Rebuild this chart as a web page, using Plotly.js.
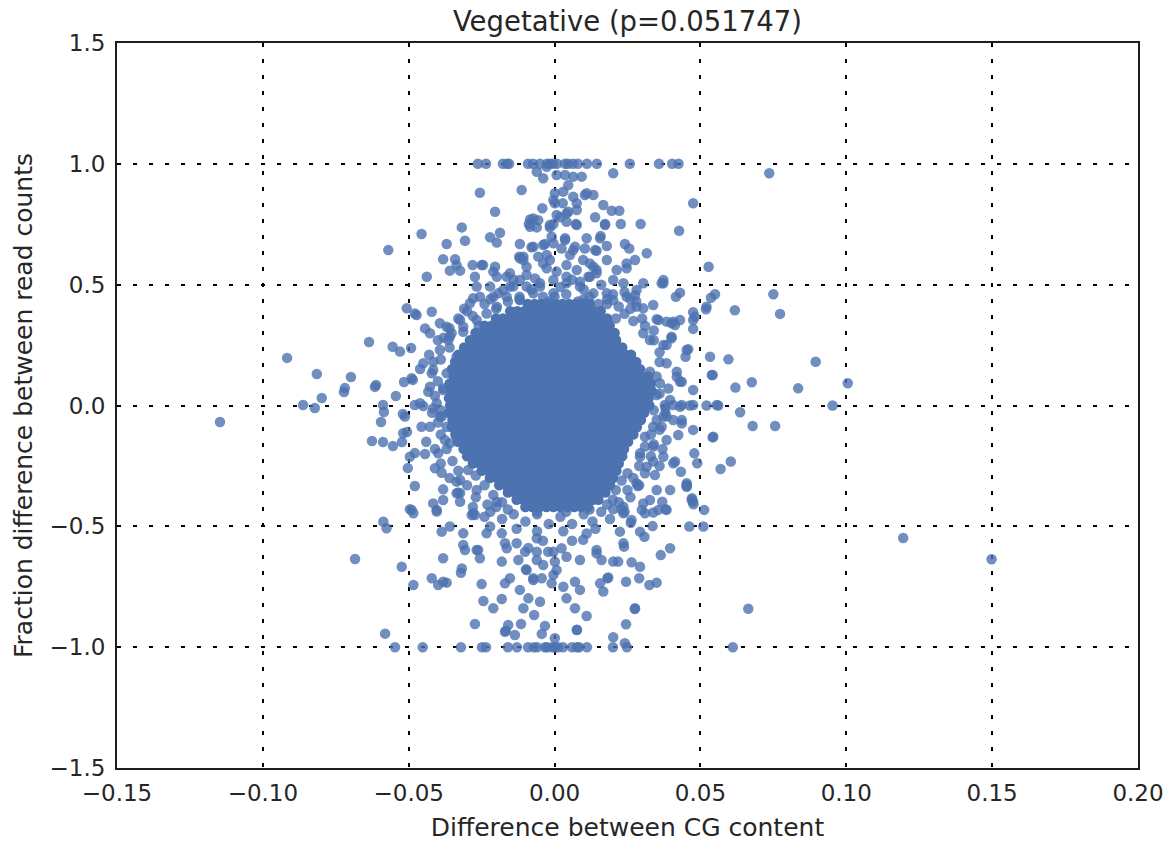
<!DOCTYPE html>
<html>
<head>
<meta charset="utf-8">
<script src="https://cdn.plot.ly/plotly-3.0.1.min.js"></script>
<style>html,body{margin:0;padding:0;background:#fff;}#chart{width:1173px;height:843px;}</style>
</head>
<body>
<div id="chart"></div>
<script>
// ---- data ----
const titleText = 'Vegetative (p=0.051747)';
const xTitle = 'Difference between CG content';
const yTitle = 'Fraction difference between read counts';
const xTicks = [-0.15, -0.10, -0.05, 0.00, 0.05, 0.10, 0.15, 0.20];
const yTicks = [-1.5, -1.0, -0.5, 0.0, 0.5, 1.0, 1.5];

// points sitting on y = 1
const topRowX = [-0.0263,-0.0235,-0.0177,-0.0163,-0.0156,-0.0091,-0.0074,-0.0050,-0.0026,-0.0016,-0.0005,0.0008,0.0036,0.0046,0.0063,0.0080,0.0111,0.0145,0.0258,0.0358,0.0403,0.0425];
// points sitting on y = -1
const bottomRowX = [-0.0547,-0.0452,-0.0321,-0.0249,-0.0235,-0.0160,-0.0129,-0.0091,-0.0071,-0.0060,-0.0033,-0.0026,-0.0009,0.0001,0.0012,0.0029,0.0060,0.0077,0.0084,0.0111,0.0200,0.0248,0.0611];

// upper part of the cloud
const upperPoints = [
[-0.0061,0.967],[-0.0039,0.940],[-0.0027,0.988],[0.0007,0.954],[0.0036,0.954],[0.0064,0.947],[0.0093,0.947],[0.0201,0.961],[0.0736,0.961],
[0.0047,0.912],[0.0030,0.885],[0.0001,0.878],[-0.0004,0.850],[0.0064,0.864],[0.0076,0.837],[0.0104,0.871],[0.0133,0.871],[-0.0113,0.892],
[-0.0256,0.880],[0.0028,0.837],[0.0167,0.830],[0.0196,0.806],[0.0222,0.806],[0.0475,0.837],[-0.0042,0.816],[-0.0204,0.802],[0.0041,0.795],
[0.0019,0.779],[0.0139,0.779],[-0.0084,0.770],[-0.0056,0.767],[-0.0088,0.751],[-0.0061,0.737],[-0.0016,0.737],[-0.0004,0.751],[0.0073,0.751],
[0.0173,0.751],[0.0227,0.751],[0.0295,0.751],[-0.0318,0.737],[-0.0456,0.710],[0.0427,0.723],[-0.0370,0.668],[-0.0307,0.682],[-0.0570,0.643],
[-0.0221,0.696],[-0.0187,0.715],[-0.0198,0.674],[-0.0119,0.668],[-0.0079,0.655],[-0.0033,0.668],[-0.0004,0.671],[0.0036,0.685],[0.0024,0.650],
[0.0070,0.657],[0.0104,0.650],[0.0158,0.701],[0.0179,0.660],[0.0241,0.668],[0.0256,0.650],[0.0144,0.640],[0.0316,0.630],[-0.0382,0.605],
[-0.0341,0.605],[-0.0336,0.581],[-0.0359,0.558],[-0.0324,0.558],[-0.0281,0.581],[-0.0250,0.581],[-0.0273,0.533],[-0.0204,0.574],[-0.0210,0.554],
[-0.0153,0.547],[-0.0096,0.540],[-0.0121,0.616],[-0.0107,0.616],[-0.0056,0.616],[-0.0027,0.623],[0.0053,0.623],[0.0098,0.602],[0.0133,0.574],
[0.0179,0.602],[0.0247,0.568],[0.0276,0.602],[0.0247,0.588],[0.0373,0.519],[0.0528,0.574],[0.0373,0.506],[0.0430,0.467],[0.0416,0.450],
[0.0550,0.460],[0.0536,0.446],[0.0750,0.460],[-0.0438,0.533],[-0.0290,0.423],[-0.0267,0.492],[-0.0256,0.450],[-0.0193,0.464],[-0.0153,0.492],
[-0.0164,0.533],[-0.0119,0.519],[-0.0050,0.492],[0.0041,0.506],[0.0116,0.533],[0.0144,0.547],[0.0201,0.519],[0.0236,0.506],[0.0281,0.478],
[0.0304,0.506],[0.0338,0.416],[0.0247,0.450],[0.0201,0.436],[0.0179,0.464],[0.0133,0.464],[0.0087,0.492],[-0.0004,0.464],[-0.0073,0.464],
[-0.0119,0.436],[-0.0198,0.409],[-0.0233,0.381],[-0.0267,0.354],[-0.0324,0.354],[-0.0370,0.326],[-0.0313,0.305],[-0.0256,0.299],[-0.0427,0.299],
[-0.0359,0.285],[-0.0245,0.581],[-0.0198,0.533],[-0.0119,0.609],[-0.0073,0.774],[-0.0084,0.740],[-0.0016,0.747],[0.0110,0.878],[0.0173,0.747],
[0.0076,0.747],[0.0156,0.692],[0.0139,0.643],[0.0064,0.643],[-0.0016,0.602],[-0.0039,0.588],[-0.0096,0.574],[-0.0073,0.657],[-0.0107,0.602],
[-0.0067,0.526],[-0.0027,0.568],[0.0007,0.554],[0.0041,0.581],[0.0076,0.561],[0.0121,0.588],[0.0144,0.561],[0.0213,0.561],[0.0121,0.533],
[0.0087,0.512],[0.0041,0.533],[-0.0004,0.519],[-0.0050,0.506],[-0.0096,0.492],[-0.0142,0.492],[-0.0176,0.478],[-0.0221,0.492],[-0.0279,0.444],
[-0.0210,0.450],[-0.0164,0.450],[0.0007,0.788],[0.0001,0.837],[0.0047,0.802],[0.0076,0.809],[0.0041,0.760],[-0.0010,0.698],[-0.0039,0.664],
[0.0036,0.692],[0.0110,0.692],[0.0367,0.506],[0.0276,0.457],[0.0304,0.402],[0.0356,0.354],[0.0401,0.340],[0.0430,0.354],[0.0407,0.347],
[0.0384,0.347],[0.0475,0.354],[0.0521,0.409],[0.0618,0.394],[0.0519,0.398],[0.0475,0.386],[0.0481,0.367],[0.0773,0.379],[0.0475,0.317],
[0.0350,0.357],[0.0413,0.333],[0.0401,0.278],[0.0281,0.409],[-0.0507,0.402],[-0.0479,0.381],[-0.0421,0.388],[-0.0444,0.319],[-0.0393,0.340],
[-0.0473,0.374],[-0.012,0.45],[-0.004,0.45],[0.004,0.46],[0.012,0.45],[0.018,0.44],[-0.008,0.48],[0.002,0.49],[0.010,0.48],[0.016,0.50],
[-0.014,0.52],[0.006,0.52],[0.024,0.47],[-0.024,0.42],[0.022,0.41],[0.028,0.43],[-0.030,0.39],[-0.028,0.37],[0.024,0.38],[0.027,0.35],
[-0.002,0.43],[0.008,0.43],[-0.016,0.43],[0.015,0.42]
];

// left side of the cloud
const leftPoints = [
[-0.1147,-0.068],[-0.0917,0.197],[-0.0862,0.002],[-0.0822,-0.010],[-0.0798,0.031],[-0.0815,0.130],[-0.0698,0.118],[-0.0722,0.056],[-0.0719,0.072],
[-0.0636,0.263],[-0.0555,0.243],[-0.0530,0.223],[-0.0612,0.085],[-0.0616,0.077],[-0.0544,0.039],[-0.0588,0.002],[-0.0585,-0.027],[-0.0595,-0.068],
[-0.0626,-0.147],[-0.0588,-0.151],[-0.0554,-0.168],[-0.0523,-0.151],[-0.0520,-0.035],[-0.0506,-0.110],[-0.0503,-0.259],[-0.0479,-0.197],[-0.0444,-0.201],
[-0.0479,-0.333],[-0.0492,0.238],[-0.0461,0.151],[-0.0516,0.097],[-0.0486,0.106],[-0.0416,0.181],[-0.0421,0.133],[-0.0393,0.230],[-0.0364,0.271],
[-0.0490,0.113],[-0.0433,0.057],[-0.0382,0.071],[-0.0479,0.002],[-0.0450,-0.002],[-0.0404,0.009],[-0.0456,-0.088],[-0.0427,-0.088],[-0.0393,-0.046],
[-0.0496,-0.212],[-0.0399,-0.198],[-0.0376,-0.143],[-0.0410,-0.260],[-0.0387,-0.278],[-0.0382,-0.347],[-0.0336,-0.315],[-0.0416,-0.405],[-0.0404,-0.432],
[-0.0490,-0.432],[-0.0284,-0.453],[-0.0382,-0.391],[-0.0336,-0.363],[-0.0296,-0.267],[-0.0450,0.175],[-0.0416,0.147],[-0.0370,0.133],[-0.0427,0.078],
[-0.0382,0.064],[-0.0461,0.009],[-0.0416,-0.012],[-0.0387,-0.046],[-0.0513,-0.046],[-0.0370,-0.088],[-0.0519,-0.115],[-0.0359,-0.156],[-0.0324,-0.308],
[-0.0324,-0.363],[-0.0267,-0.350],[-0.0279,-0.446],[-0.0198,-0.398],[-0.0347,0.078],[-0.0336,0.202],[-0.0353,0.299],[-0.0313,0.326],[-0.0256,0.271]
];

// right side of the cloud
const rightPoints = [
[0.0458,0.233],[0.0449,0.202],[0.0533,0.202],[0.0596,0.191],[0.0895,0.181],[0.0542,0.126],[0.0436,0.098],[0.0676,0.096],[0.0620,0.074],
[0.0835,0.071],[0.1005,0.092],[0.0475,0.064],[0.0953,0.000],[0.0521,0.000],[0.0561,0.000],[0.0464,0.000],[0.0636,-0.028],[0.0679,-0.085],
[0.0756,-0.085],[0.0542,-0.132],[0.0475,-0.101],[0.0479,-0.198],[0.0489,-0.239],[0.0604,-0.232],[0.0569,-0.263],[0.0433,-0.274],[0.0453,-0.329],
[0.0396,-0.350],[0.0471,-0.384],[0.0453,0.230],[0.0401,0.285],[0.0384,0.250],[0.0419,0.119],[0.0475,0.002],[0.0436,0.002],[0.0407,0.002],
[0.0378,0.002],[0.0436,-0.060],[0.0384,-0.046],[0.0367,-0.088],[0.0424,-0.122],[0.0384,-0.143],[0.0413,-0.232],[0.0338,-0.232],[0.0293,-0.198],
[0.0344,-0.288],[0.0453,-0.322],[0.0327,-0.391],[0.0299,-0.432],[0.0356,-0.432],[0.0264,-0.474],[0.0304,0.299],[0.0327,0.271],[0.0373,0.250],
[0.0384,0.175],[0.0327,0.140],[0.0419,0.140],[0.0430,0.098],[0.0361,0.092],[0.0350,0.043],[0.0396,0.023],[0.0430,-0.005],[0.0556,0.002],
[0.0373,-0.046],[0.0407,-0.060],[0.0338,-0.088],[0.0436,-0.074],[0.0310,-0.129],[0.0338,-0.170],[0.0373,-0.212],[0.0293,-0.212],[0.0316,-0.253],
[0.0407,-0.239],[0.0281,-0.322],[0.0350,-0.350],[0.0453,-0.336],[0.0384,-0.432],[0.0475,-0.398],[0.0544,-0.129],[0.0539,0.126]
];

// lower part of the cloud
const lowerPoints = [
[0.0453,-0.333],[0.0470,-0.391],[0.0476,-0.409],[0.0513,-0.432],[0.0510,-0.501],[0.0462,-0.501],[0.0369,-0.398],[0.0381,-0.429],[0.0338,-0.443],
[0.0336,-0.499],[0.0304,-0.405],[0.0310,-0.446],[0.0285,-0.333],[0.0261,-0.485],[0.0293,-0.522],[0.0308,-0.543],[0.0224,-0.522],[0.0236,-0.419],
[0.0236,-0.446],[0.0201,-0.429],[0.0236,-0.570],[0.0238,-0.584],[0.0396,-0.591],[0.0364,-0.619],[0.0218,-0.646],[0.0264,-0.649],[0.0293,-0.667],
[0.0181,-0.715],[0.0245,-0.729],[0.0290,-0.715],[0.0325,-0.743],[0.0350,-0.733],[0.0167,-0.770],[0.0275,-0.842],[0.0664,-0.841],[0.1195,-0.548],
[0.1498,-0.636],[0.0245,-0.905],[0.0201,-0.959],[0.0241,-0.984],[0.0276,-0.839],[-0.0273,-0.904],[-0.0170,-0.936],[-0.0159,-0.908],[-0.0136,-0.950],
[-0.0115,-0.904],[-0.0033,-0.912],[-0.0044,-0.945],[0.0001,-0.963],[0.0076,-0.929],[0.0110,-0.871],[0.0070,-0.839],[-0.0244,-0.809],[-0.0210,-0.839],
[-0.0181,-0.801],[-0.0107,-0.839],[-0.0070,-0.867],[-0.0050,-0.812],[-0.0090,-0.798],[-0.0119,-0.763],[-0.0153,-0.715],[-0.0170,-0.736],[-0.0250,-0.739],
[-0.0073,-0.715],[-0.0044,-0.715],[-0.0010,-0.736],[-0.0004,-0.701],[0.0007,-0.681],[0.0001,-0.646],[0.0030,-0.750],[0.0041,-0.798],[0.0087,-0.763],
[0.0070,-0.729],[0.0156,-0.736],[0.0184,-0.712],[-0.0098,-0.678],[-0.0022,-0.605],[-0.0061,-0.639],[-0.0124,-0.639],[-0.0181,-0.646],[-0.0164,-0.591],
[-0.0101,-0.605],[-0.0061,-0.605],[-0.0039,-0.660],[-0.0318,-0.674],[-0.0382,-0.729],[-0.0313,-0.577],[-0.0382,-0.632],[-0.0307,-0.598],[-0.0267,-0.598],
[-0.0256,-0.632],[-0.0130,-0.570],[0.0024,-0.591],[0.0041,-0.626],[0.0087,-0.639],[-0.0061,-0.549],[0.0098,-0.556],[0.0144,-0.598],[0.0161,-0.639],
[0.0201,-0.646],[-0.0004,-0.605],[-0.0170,-0.570],[-0.0181,-0.529],[-0.0587,-0.481],[-0.0576,-0.508],[-0.0496,-0.429],[-0.0484,-0.446],[-0.0524,-0.667],
[-0.0484,-0.743],[-0.0421,-0.715],[-0.0399,-0.743],[-0.0370,-0.733],[-0.0321,-0.692],[-0.0167,-0.932],[-0.0387,-0.522],[-0.0359,-0.501],[-0.0313,-0.529],
[-0.0262,-0.598],[-0.0233,-0.529],[-0.0221,-0.501],[-0.0581,-0.944],[-0.0404,-0.439],[-0.0273,-0.453],[-0.0324,-0.398],[-0.0096,-0.681],[-0.0073,-0.722],
[0.0144,-0.612],[0.0077,-0.928],[-0.0684,-0.635],[-0.014,-0.45],[-0.006,-0.45],[0.002,-0.46],[0.010,-0.45],[0.016,-0.44],[-0.010,-0.48],[-0.002,-0.49],
[0.006,-0.49],[0.013,-0.48],[-0.018,-0.47],[0.019,-0.47],[-0.006,-0.52],[0.003,-0.52],[0.011,-0.53],[-0.013,-0.51],[-0.004,-0.56],[0.006,-0.56],
[-0.022,-0.44],[0.024,-0.44],[0.020,-0.39],[-0.018,-0.40],[-0.021,-0.37],[0.021,-0.35],[-0.024,-0.33],[0.023,-0.31],[-0.027,-0.29],[0.025,-0.28],
[-0.009,-0.59],[0.014,-0.51]
];

// points along the rim of the dense core
const rimPoints = [
[-0.038,0.28],[-0.036,0.24],[-0.039,0.19],[-0.040,0.10],[-0.041,0.04],[-0.039,-0.02],[-0.040,-0.07],[-0.039,-0.12],[-0.037,-0.18],[-0.035,-0.23],
[-0.033,-0.27],[-0.030,-0.33],[-0.027,-0.38],[-0.023,-0.41],[-0.043,0.21],[-0.044,-0.15],[-0.042,-0.03],
[0.034,0.31],[0.036,0.22],[0.035,0.12],[0.036,0.05],[0.034,-0.02],[0.035,-0.06],[0.033,-0.12],[0.031,-0.17],[0.029,-0.25],[0.027,-0.30],
[0.025,-0.35],[0.022,-0.40],[0.030,0.36],[0.026,0.40],[0.038,-0.01],[0.039,0.07],[0.037,-0.18],
[-0.020,0.40],[-0.012,0.44],[0.000,0.45],[0.010,0.44],[0.018,0.42],[-0.026,0.33],[0.021,0.36],
[-0.016,-0.43],[-0.006,-0.44],[0.004,-0.44],[0.012,-0.43],[-0.020,-0.42],[0.018,-0.41],
[-0.033,0.36],[-0.036,0.32],[-0.031,0.40],[-0.022,0.44],[-0.040,0.27],
[0.031,0.33],[0.034,0.27],[0.036,0.18],[0.026,0.44],[0.020,0.46],
[0.036,-0.10],[0.034,-0.16],[0.033,-0.21],[0.031,-0.28],[0.029,-0.33],[0.026,-0.38],[0.023,-0.43],[0.038,-0.03],[0.036,-0.25],
[-0.039,-0.24],[-0.036,-0.30],[-0.033,-0.36],[-0.028,-0.42],[-0.024,-0.46],[-0.041,-0.18]
];

// dense core of the cloud, one list of x values per y row
const coreRowY = [0.42,0.39,0.36,0.33,0.30,0.27,0.24,0.21,0.18,0.15,0.12,0.09,0.06,0.03,0.00,-0.03,-0.06,-0.09,-0.12,-0.15,-0.18,-0.21,-0.24,-0.27,-0.30,-0.33,-0.36,-0.39,-0.42];
const coreRowX = [
[-.0092,-.0068,-.0045,-.0021,.0003,.0027,.0050,.0074,.0098,.0121],
[-.0152,-.0128,-.0104,-.0080,-.0057,-.0033,-.0009,.0015,.0039,.0062,.0086,.0110,.0134,.0158],
[-.0201,-.0177,-.0153,-.0130,-.0106,-.0082,-.0058,-.0034,-.0011,.0013,.0037,.0061,.0085,.0108,.0132,.0156,.0180],
[-.0240,-.0216,-.0192,-.0168,-.0145,-.0121,-.0097,-.0073,-.0049,-.0026,-.0002,.0022,.0046,.0070,.0093,.0117,.0141,.0165,.0189],
[-.0271,-.0247,-.0223,-.0199,-.0176,-.0152,-.0128,-.0104,-.0080,-.0056,-.0033,-.0009,.0015,.0039,.0063,.0087,.0110,.0134,.0158,.0182,.0206],
[-.0290,-.0266,-.0242,-.0218,-.0194,-.0170,-.0147,-.0123,-.0099,-.0075,-.0051,-.0027,-.0004,.0020,.0044,.0068,.0092,.0116,.0139,.0163,.0187,.0211],
[-.0310,-.0286,-.0262,-.0238,-.0214,-.0191,-.0167,-.0143,-.0119,-.0095,-.0071,-.0047,-.0024,.0000,.0024,.0048,.0072,.0096,.0119,.0143,.0167,.0191,.0215,.0232],
[-.0330,-.0306,-.0282,-.0258,-.0234,-.0210,-.0187,-.0163,-.0139,-.0115,-.0091,-.0067,-.0043,-.0020,.0004,.0028,.0052,.0076,.0100,.0124,.0147,.0171,.0195,.0219,.0243,.0262],
[-.0341,-.0317,-.0293,-.0269,-.0245,-.0221,-.0197,-.0174,-.0150,-.0126,-.0102,-.0078,-.0054,-.0030,-.0007,.0017,.0041,.0065,.0089,.0113,.0137,.0160,.0184,.0208,.0232,.0256,.0280],
[-.0352,-.0328,-.0304,-.0280,-.0256,-.0232,-.0208,-.0184,-.0161,-.0137,-.0113,-.0089,-.0065,-.0041,-.0017,.0006,.0030,.0054,.0078,.0102,.0126,.0150,.0174,.0197,.0221,.0245,.0269,.0293],
[-.0346,-.0322,-.0298,-.0274,-.0250,-.0226,-.0202,-.0178,-.0155,-.0131,-.0107,-.0083,-.0059,-.0035,-.0011,.0012,.0036,.0060,.0084,.0108,.0132,.0156,.0180,.0203,.0227,.0251,.0275,.0299,.0320],
[-.0360,-.0336,-.0312,-.0288,-.0264,-.0240,-.0216,-.0192,-.0169,-.0145,-.0121,-.0097,-.0073,-.0049,-.0025,-.0001,.0022,.0046,.0070,.0094,.0118,.0142,.0166,.0190,.0213,.0237,.0261,.0285,.0309,.0330],
[-.0355,-.0331,-.0307,-.0283,-.0259,-.0235,-.0211,-.0187,-.0163,-.0140,-.0116,-.0092,-.0068,-.0044,-.0020,.0004,.0028,.0052,.0076,.0100,.0123,.0147,.0171,.0195,.0219,.0243,.0267,.0291,.0315,.0333],
[-.0362,-.0338,-.0314,-.0290,-.0266,-.0242,-.0218,-.0194,-.0171,-.0147,-.0123,-.0099,-.0075,-.0051,-.0027,-.0003,.0020,.0044,.0068,.0092,.0116,.0140,.0164,.0188,.0211,.0235,.0259,.0283,.0307,.0322],
[-.0358,-.0334,-.0310,-.0286,-.0262,-.0238,-.0214,-.0190,-.0166,-.0142,-.0119,-.0095,-.0071,-.0047,-.0023,.0001,.0025,.0049,.0072,.0096,.0120,.0144,.0168,.0192,.0216,.0240,.0263,.0287,.0311,.0325],
[-.0362,-.0338,-.0314,-.0290,-.0266,-.0242,-.0218,-.0195,-.0171,-.0147,-.0123,-.0099,-.0075,-.0051,-.0027,-.0003,.0020,.0044,.0068,.0092,.0116,.0140,.0164,.0188,.0212,.0236,.0259,.0283,.0307],
[-.0350,-.0326,-.0302,-.0278,-.0254,-.0230,-.0206,-.0182,-.0159,-.0135,-.0111,-.0087,-.0063,-.0039,-.0015,.0009,.0033,.0056,.0080,.0104,.0128,.0152,.0176,.0200,.0224,.0248,.0272,.0296],
[-.0352,-.0328,-.0304,-.0280,-.0256,-.0232,-.0208,-.0185,-.0161,-.0137,-.0113,-.0089,-.0065,-.0041,-.0017,.0007,.0031,.0054,.0078,.0102,.0126,.0150,.0174,.0198,.0222,.0246,.0270,.0282],
[-.0340,-.0316,-.0292,-.0268,-.0244,-.0220,-.0196,-.0173,-.0149,-.0125,-.0101,-.0077,-.0053,-.0029,-.0005,.0019,.0043,.0066,.0090,.0114,.0138,.0162,.0186,.0210,.0234,.0258,.0270],
[-.0332,-.0308,-.0284,-.0260,-.0236,-.0212,-.0188,-.0164,-.0141,-.0117,-.0093,-.0069,-.0045,-.0021,.0003,.0027,.0051,.0074,.0098,.0122,.0146,.0170,.0194,.0218,.0242,.0252],
[-.0312,-.0288,-.0264,-.0240,-.0216,-.0192,-.0169,-.0145,-.0121,-.0097,-.0073,-.0049,-.0025,-.0001,.0023,.0047,.0070,.0094,.0118,.0142,.0166,.0190,.0214,.0238],
[-.0300,-.0276,-.0252,-.0228,-.0204,-.0180,-.0157,-.0133,-.0109,-.0085,-.0061,-.0037,-.0013,.0011,.0035,.0058,.0082,.0106,.0130,.0154,.0178,.0202,.0226,.0232],
[-.0280,-.0256,-.0232,-.0208,-.0184,-.0161,-.0137,-.0113,-.0089,-.0065,-.0041,-.0017,.0007,.0031,.0054,.0078,.0102,.0126,.0150,.0174,.0198,.0220],
[-.0250,-.0226,-.0202,-.0178,-.0154,-.0131,-.0107,-.0083,-.0059,-.0035,-.0011,.0013,.0037,.0060,.0084,.0108,.0132,.0156,.0180,.0204,.0212],
[-.0222,-.0198,-.0174,-.0150,-.0126,-.0103,-.0079,-.0055,-.0031,-.0007,.0017,.0041,.0064,.0088,.0112,.0136,.0160,.0184,.0200],
[-.0190,-.0166,-.0142,-.0118,-.0095,-.0071,-.0047,-.0023,.0001,.0025,.0048,.0072,.0096,.0120,.0144,.0168,.0190],
[-.0160,-.0136,-.0112,-.0088,-.0064,-.0041,-.0017,.0007,.0031,.0055,.0078,.0102,.0126,.0150,.0174],
[-.0130,-.0106,-.0082,-.0058,-.0034,-.0011,.0013,.0037,.0061,.0084,.0108,.0132,.0150],
[-.0100,-.0076,-.0052,-.0028,-.0004,.0020,.0043,.0067,.0091,.0115]
];

// ---- build the traces ----
const coreX = [], coreY = [];
coreRowY.forEach((yv, i) => { coreRowX[i].forEach(xv => { coreX.push(xv); coreY.push(yv); }); });

const xs = [], ys = [];
topRowX.forEach(v => { xs.push(v); ys.push(1.0); });
bottomRowX.forEach(v => { xs.push(v); ys.push(-1.0); });
[upperPoints, leftPoints, rightPoints, lowerPoints, rimPoints].forEach(group => {
  group.forEach(p => { xs.push(p[0]); ys.push(p[1]); });
});

const font = 'DejaVu Sans, Liberation Sans, sans-serif';
const textColor = '#262626';
const dotColor = '#4C72B0';

// the saturated core: many overlapping points, drawn fully covered
const coreTrace = {
  type: 'scatter', mode: 'markers', x: coreX, y: coreY, hoverinfo: 'skip',
  marker: { size: 10.5, color: dotColor, opacity: 1, line: { width: 0 } }
};
const trace = {
  type: 'scatter', mode: 'markers', x: xs, y: ys, hoverinfo: 'skip',
  marker: { size: 10.5, color: dotColor, opacity: 0.8, line: { width: 0 } }
};

const axisCommon = {
  showgrid: true, gridcolor: '#000000', gridwidth: 2, griddash: '4px,12px',
  zeroline: false, showline: true, linecolor: '#1e1e1e', linewidth: 2, mirror: true,
  ticks: '', tickfont: { family: font, size: 23, color: textColor }, automargin: false
};

const layout = {
  width: 1173, height: 843,
  margin: { l: 117, r: 35, t: 43, b: 75 },
  paper_bgcolor: '#ffffff', plot_bgcolor: '#ffffff',
  showlegend: false,
  font: { family: font, color: textColor },
  title: { text: titleText, font: { family: font, size: 27.5, color: textColor },
           x: 0.5, xref: 'paper', xanchor: 'center', y: 1 - 21 / 843, yref: 'container', yanchor: 'middle' },
  xaxis: Object.assign({}, axisCommon, {
    range: [-0.15, 0.20], tickvals: xTicks, tickformat: '.2f', ticklabelstandoff: 3,
    title: { text: xTitle, font: { family: font, size: 25, color: textColor }, standoff: 14 }
  }),
  yaxis: Object.assign({}, axisCommon, {
    range: [-1.5, 1.5], tickvals: yTicks, tickformat: '.1f', ticklabelstandoff: 5,
    title: { text: yTitle, font: { family: font, size: 25, color: textColor }, standoff: 10 }
  })
};

Plotly.newPlot('chart', [coreTrace, trace], layout, { displayModeBar: false, staticPlot: true });
</script>
</body>
</html>
